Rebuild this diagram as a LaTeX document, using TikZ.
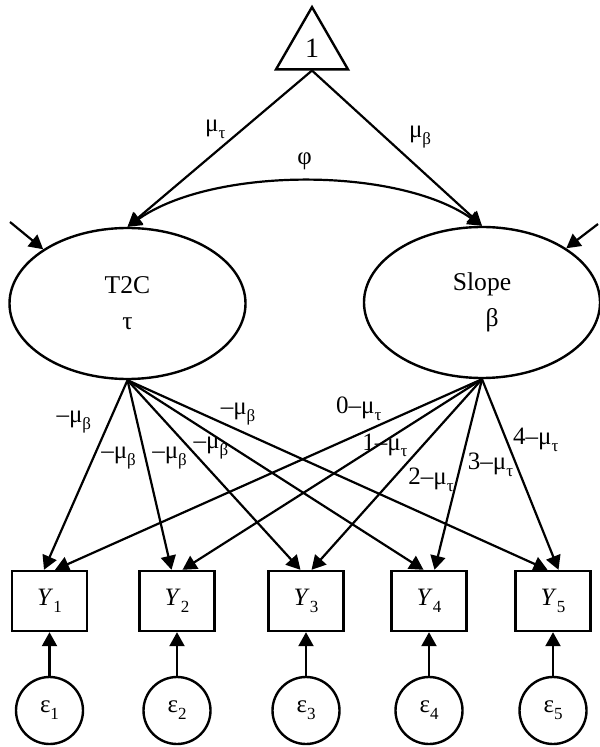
\documentclass[tikz,border=0pt]{standalone}
\usepackage{fontspec}
\setmainfont{Liberation Serif}
\usetikzlibrary{arrows.meta,shapes.geometric}
\newcommand{\lo}[1]{\raisebox{-0.6ex}{\fontsize{8.5}{9}\selectfont #1}}

\begin{document}
\begin{tikzpicture}[x=0.5pt,y=0.5pt,
    LatentStyle/.style = {draw,ellipse,line width=1.2pt,minimum width=118pt,
      minimum height=75.5pt,inner sep=0pt,align=center,font=\fontsize{12.8}{18}\selectfont},
    BoxStyle/.style = {draw,rectangle,line width=1.2pt,minimum width=37.5pt,
      minimum height=30pt,inner sep=0pt,font=\fontsize{12.5}{14}\selectfont},
    ErrorStyle/.style = {draw,circle,line width=1.2pt,minimum size=33.5pt,
      inner sep=0pt,font=\fontsize{12.5}{14}\selectfont},
    LabelStyle/.style = {inner sep=0pt,font=\fontsize{12.5}{14}\selectfont},
    EdgeStyle/.style = {-{Triangle[length=7pt,width=7.5pt]},line width=1.1pt}]
      \useasboundingbox (0,0) rectangle (599,-747);

      % Vertices
      \node[regular polygon,regular polygon sides=3,draw,line width=1.2pt,
        minimum size=41.5pt,inner sep=0pt,font=\fontsize{14}{16}\selectfont]
        (one) at (312,-48.6) {1};
      \node[LatentStyle] (tau) at (127.5,-303.5) {T2C\\τ};
      \node[LatentStyle] (slope) at (482,-302.5) {Slope\\\hspace*{0.8em}β};

      \node[BoxStyle] (Y1) at (49.5,-601) {\textit{Y}\lo{1}};
      \node[BoxStyle] (Y2) at (177,-601) {\textit{Y}\lo{2}};
      \node[BoxStyle] (Y3) at (306,-601) {\textit{Y}\lo{3}};
      \node[BoxStyle] (Y4) at (429,-601) {\textit{Y}\lo{4}};
      \node[BoxStyle] (Y5) at (553,-601) {\textit{Y}\lo{5}};

      \node[ErrorStyle] (e1) at (49.5,-710.5) {ε\lo{1}};
      \node[ErrorStyle] (e2) at (177,-710.5) {ε\lo{2}};
      \node[ErrorStyle] (e3) at (306,-710.5) {ε\lo{3}};
      \node[ErrorStyle] (e4) at (429,-710.5) {ε\lo{4}};
      \node[ErrorStyle] (e5) at (553,-710.5) {ε\lo{5}};

      \coordinate (lin) at (10,-222);
      \coordinate (rin) at (598,-224);

      % Edges
      \draw[EdgeStyle] (one.south) -- (tau.north)
        node[LabelStyle,pos=0.378,xshift=-13.5pt] {μ\lo{τ}};
      \draw[EdgeStyle] (one.south) -- (slope.north)
        node[LabelStyle,pos=0.426,xshift=17.8pt] {μ\lo{β}};
      \draw[{Triangle[length=7pt,width=7.5pt]}-{Triangle[length=7pt,width=7.5pt]},line width=1.1pt]
        (tau.north) to[bend left=35,looseness=0.75]
        node[LabelStyle,pos=0.5,yshift=10pt] {φ} (slope.north);
      \draw[EdgeStyle] (lin) -- (tau.north west);
      \draw[EdgeStyle] (rin) -- (slope.north east);

      \draw[EdgeStyle] (tau.south) -- (Y1.100)
        node[LabelStyle,pos=0.219,xshift=-17.7pt] {–μ\lo{β}};
      \draw[EdgeStyle] (tau.south) -- (Y2.100)
        node[LabelStyle,pos=0.411,xshift=-13.5pt] {–μ\lo{β}};
      \draw[EdgeStyle] (tau.south) -- (Y3.100)
        node[LabelStyle,pos=0.411,xshift=-14.5pt] {–μ\lo{β}};
      \draw[EdgeStyle] (tau.south) -- (Y4.100)
        node[LabelStyle,pos=0.359,xshift=-11.4pt] {–μ\lo{β}};
      \draw[EdgeStyle] (tau.south) -- (Y5.100)
        node[LabelStyle,pos=0.177,xshift=18.1pt] {–μ\lo{β}};

      \draw[EdgeStyle] (slope.south) -- (Y1.80)
        node[LabelStyle,pos=0.155,xshift=-28.5pt] {0–μ\lo{τ}};
      \draw[EdgeStyle] (slope.south) -- (Y2.80)
        node[LabelStyle,pos=0.347,xshift=3.4pt] {1–μ\lo{τ}};
      \draw[EdgeStyle] (slope.south) -- (Y3.80)
        node[LabelStyle,pos=0.528,xshift=19.5pt] {2–μ\lo{τ}};
      \draw[EdgeStyle] (slope.south) -- (Y4.80)
        node[LabelStyle,pos=0.451,xshift=15pt] {3–μ\lo{τ}};
      \draw[EdgeStyle] (slope.south) -- (Y5.80)
        node[LabelStyle,pos=0.316,xshift=14.8pt] {4–μ\lo{τ}};

      \draw[EdgeStyle] (e1) -- (Y1);
      \draw[EdgeStyle] (e2) -- (Y2);
      \draw[EdgeStyle] (e3) -- (Y3);
      \draw[EdgeStyle] (e4) -- (Y4);
      \draw[EdgeStyle] (e5) -- (Y5);
\end{tikzpicture}
\end{document}
